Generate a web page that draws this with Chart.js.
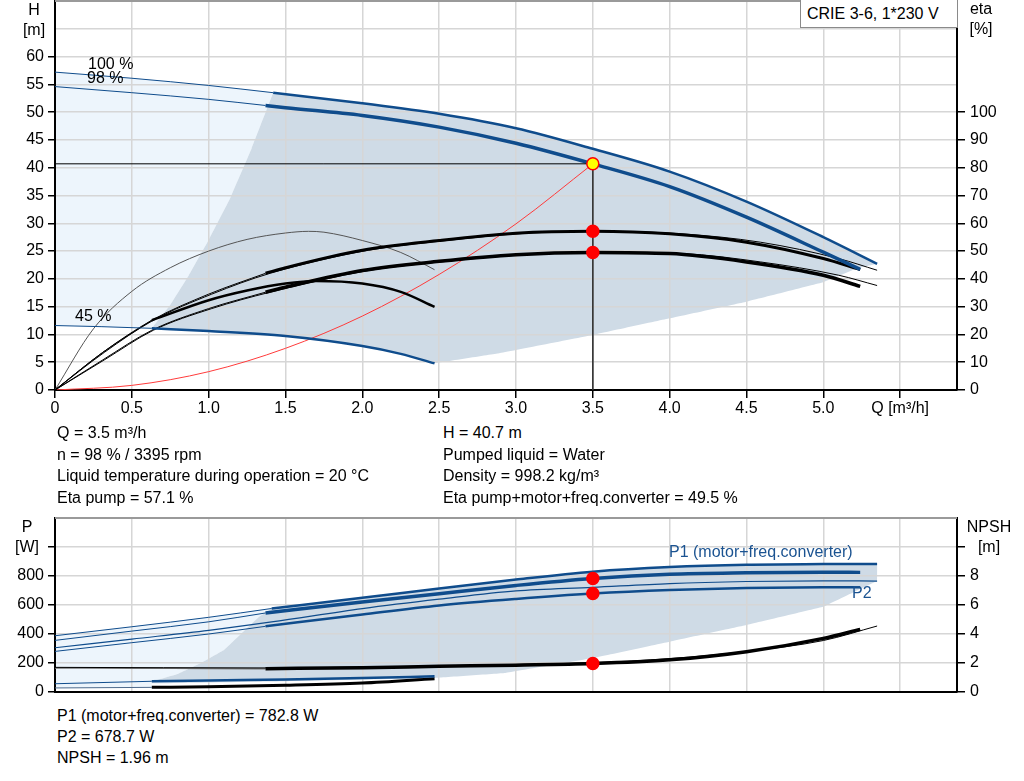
<!DOCTYPE html>
<html>
<head>
<meta charset="utf-8">
<script src="https://cdn.jsdelivr.net/npm/chart.js@4.4.1/dist/chart.umd.min.js"></script>
<style>
  body { margin: 0; background: #fff; width: 1024px; height: 781px; position: relative; overflow: hidden;
         font-family: "Liberation Sans", Arial, sans-serif; font-size: 16px; color: #000; }
  canvas { position: absolute; left: 0; }
  .t { position: absolute; white-space: nowrap; line-height: 20px; }
  .c { text-align: center; width: 50px; }
  .blue { color: #1b5391; }
  #title { position: absolute; left: 800px; top: -1px; width: 150px; height: 27px; line-height: 28px;
           border: 1px solid #8a8a8a; background: #fff; padding-left: 6px; white-space: nowrap; }
</style>
</head>
<body>
<canvas id="head" width="1024" height="420" style="top:0"></canvas>
<canvas id="power" width="1024" height="205" style="top:500px"></canvas>

<div id="title">CRIE 3-6, 1*230 V</div>
<div class="t c" style="left:9px;top:0">H</div>
<div class="t c" style="left:9px;top:20px">[m]</div>
<div class="t c" style="left:956px;top:-1px">eta</div>
<div class="t c" style="left:956px;top:19px">[%]</div>
<div class="t" style="left:88px;top:54px">100 %</div>
<div class="t" style="left:87px;top:68px">98 %</div>
<div class="t" style="left:75px;top:306px">45 %</div>

<div class="t" style="left:57px;top:423px">Q = 3.5 m³/h</div>
<div class="t" style="left:57px;top:445px">n = 98 % / 3395 rpm</div>
<div class="t" style="left:57px;top:466px">Liquid temperature during operation = 20 °C</div>
<div class="t" style="left:57px;top:488px">Eta pump = 57.1 %</div>
<div class="t" style="left:443px;top:423px">H = 40.7 m</div>
<div class="t" style="left:443px;top:445px">Pumped liquid = Water</div>
<div class="t" style="left:443px;top:466px">Density = 998.2 kg/m³</div>
<div class="t" style="left:443px;top:488px">Eta pump+motor+freq.converter = 49.5 %</div>

<div class="t c" style="left:2px;top:517px">P</div>
<div class="t c" style="left:2px;top:537px">[W]</div>
<div class="t c" style="left:964px;top:517px">NPSH</div>
<div class="t c" style="left:964px;top:537px">[m]</div>
<div class="t blue" style="left:669px;top:542px">P1 (motor+freq.converter)</div>
<div class="t blue" style="left:852px;top:583px">P2</div>

<div class="t" style="left:57px;top:706px">P1 (motor+freq.converter) = 782.8 W</div>
<div class="t" style="left:57px;top:727px">P2 = 678.7 W</div>
<div class="t" style="left:57px;top:748px">NPSH = 1.96 m</div>

<script>
// duty point
const dutyQ = 3.5, dutyH = 40.7, dutyEtaPump = 57.1, dutyEtaTotal = 49.5;
const dutyP1 = 782.8, dutyP2 = 678.7, dutyNpsh = 1.96;
const qMax = 5.87;
const qUnit = 'Q [m³/h]';

// head curves [m]
const qH100 = [0, 0.5, 1.0, 1.42, 2.0, 2.5, 3.0, 3.5, 4.0, 4.5, 5.0, 5.35];
const h100 = [57.2, 56.1, 54.8, 53.5, 51.6, 49.7, 47.1, 43.4, 39.3, 33.9, 27.5, 22.7];
const qH98 = [0, 0.5, 1.0, 1.37, 1.5, 2.0, 2.5, 3.0, 3.5, 4.0, 4.5, 5.0, 5.24];
const h98 = [54.6, 53.5, 52.3, 51.2, 50.8, 49.4, 47.3, 44.4, 40.7, 36.6, 31.1, 24.8, 21.7];
const qH45 = [0, 0.3, 0.63, 1.0, 1.5, 2.0, 2.25, 2.47];
const h45 = [11.6, 11.4, 11.1, 10.6, 9.7, 7.9, 6.5, 4.8];
const qSys = [0, 0.5, 1.0, 1.5, 2.0, 2.5, 3.0, 3.5];
const hSys = [0, 0.83, 3.3, 7.5, 13.3, 20.8, 29.9, 40.7];
// operating range borders
const qLimit = [2.47, 2.89, 3.5, 4.0, 4.5, 5.0, 5.22];
const hLimit = [4.8, 6.6, 9.9, 12.9, 15.9, 19.4, 21.9];
const qEdge = [0.63, 0.75, 0.87, 1.0, 1.14, 1.28, 1.42];
const hEdge = [11.1, 15.3, 20.6, 27.0, 34.5, 43.5, 53.5];

// efficiency curves [%]
const qEta98 = [0, 0.31, 0.63, 1.0, 1.37, 1.5, 2.0, 2.5, 3.0, 3.5, 4.0, 4.5, 5.0, 5.24];
const etaPump98 = [0, 13.5, 25.1, 34.5, 42.0, 44.0, 50.3, 53.8, 56.4, 57.1, 56.2, 53.2, 47.3, 43.3];
const etaTot98 = [0, 10.8, 21.5, 29.3, 35.2, 37.0, 43.0, 46.3, 48.7, 49.5, 49.1, 46.1, 41.3, 37.3];
const qEta100 = [0, 0.32, 0.64, 1.02, 1.4, 2.04, 2.55, 3.06, 3.57, 4.08, 4.59, 5.1, 5.35];
const etaPump100 = [0, 13.5, 25.1, 34.5, 42.0, 50.3, 53.8, 56.4, 57.1, 56.2, 53.2, 47.3, 43.1];
const etaTot100 = [0, 10.8, 21.5, 29.3, 35.2, 43.0, 46.3, 48.7, 49.5, 49.1, 46.1, 41.3, 37.6];
const qEta45 = [0, 0.25, 0.5, 0.75, 1.0, 1.25, 1.5, 1.65, 1.75, 2.0, 2.25, 2.47];
const etaPump45 = [0, 22, 35.5, 44, 50, 54.2, 56.5, 57.1, 56.8, 53.8, 49.5, 43.3];
const qTot45 = [0, 0.31, 0.63, 1.0, 1.25, 1.5, 1.7, 2.0, 2.25, 2.47];
const etaTot45 = [0, 13.5, 25.1, 32.3, 35.8, 38.3, 39.2, 38.3, 35.3, 29.9];

// power curves [W]
const qP100 = [0, 0.5, 1.0, 1.41, 2.0, 2.5, 3.0, 3.5, 4.0, 4.5, 5.0, 5.35];
const p1_100 = [388, 450, 515, 576, 650, 714, 776, 830, 862, 878, 882, 883];
const p2_100 = [305, 365, 425, 483, 575, 640, 697, 722, 748, 762, 767, 765];
const qP98 = [0, 0.5, 1.0, 1.37, 2.0, 2.5, 3.0, 3.5, 4.0, 4.5, 5.0, 5.24];
const p1_98 = [356, 420, 484, 545, 620, 678, 735, 782.8, 812, 822, 826, 825];
const p2_98 = [280, 340, 400, 453, 535, 597, 642, 678.7, 703, 718, 723, 722];
const qP45 = [0, 0.63, 1.0, 1.5, 2.0, 2.47];
const p1_45 = [57, 74, 80, 87, 96, 108];
const qPLimit = [5.35, 5.2, 5.0, 4.5, 4.0, 3.5, 2.93, 2.47, 1.5, 0.63];
const pLimit = [765, 690, 588, 462, 347, 234, 131, 97, 75, 60];
const qPEdge = [0.63, 0.8, 0.95, 1.1, 1.21, 1.33, 1.41];
const pEdge = [74, 125, 200, 290, 400, 520, 576];
const qPLow = [0.63, 0];
const pLow = [34, 26];

// NPSH curves [m]
const qN98 = [0, 0.5, 1.0, 1.37, 2.0, 2.5, 3.0, 3.5, 4.0, 4.5, 5.0, 5.24];
const npsh98 = [1.65, 1.64, 1.62, 1.61, 1.68, 1.77, 1.85, 1.96, 2.22, 2.78, 3.7, 4.32];
const qN100 = [0, 1.41, 2.0, 2.5, 3.0, 3.5, 4.0, 4.5, 5.0, 5.35];
const npsh100 = [1.7, 1.66, 1.72, 1.8, 1.9, 2.02, 2.3, 2.8, 3.55, 4.55];
const npsh45 = [0.28, 0.32, 0.36, 0.46, 0.62, 0.92];

Chart.defaults.font.family = "'Liberation Sans', Arial, sans-serif";
Chart.defaults.font.size = 16;
Chart.defaults.color = '#000';

const BLUE = '#0f4c8c';
const GRID = '#d6d6d6';
const LIGHT = '#edf5fc';
const DARK = '#cfdbe6';

function pts(qs, vs, from = 0, to = qs.length) {
  return qs.slice(from, to).map((q, i) => ({ x: q, y: vs[from + i] }));
}

function line(data, color, width, axis, order) {
  return { data, yAxisID: axis || 'y', borderColor: color, borderWidth: width, pointRadius: 0,
           fill: false, cubicInterpolationMode: 'monotone', order: order || 5 };
}

function rule(data, color) {
  return { data, yAxisID: 'y', borderColor: color, borderWidth: 1, pointRadius: 0, fill: false, tension: 0, order: 2 };
}

function zone(data, color, order) {
  return { data, yAxisID: 'y', backgroundColor: color, borderColor: 'rgba(0,0,0,0)', borderWidth: 0,
           pointRadius: 0, fill: 'shape', tension: 0.01, order };
}

function dot(x, y, axis, color, border) {
  return { data: [{ x, y }], yAxisID: axis, showLine: false, pointRadius: 6, pointBackgroundColor: color,
           pointBorderColor: border || color, pointBorderWidth: 1.5, order: 0 };
}

// thin line up to the split point, thick line after it
function thinThick(qs, vs, split, color, thin, thick, axis, thinColor) {
  return [line(pts(qs, vs, 0, split + 1), thinColor || color, thin, axis, 4),
          line(pts(qs, vs, split), color, thick, axis, 3)];
}

function xScale(height, labels) {
  return {
    type: 'linear', min: 0, max: qMax,
    afterFit: s => { s.height = height; },
    border: { color: '#000', width: 2 },
    grid: { color: GRID, lineWidth: 1.5, drawTicks: labels, tickLength: 8, tickColor: '#000', tickWidth: 1.5 },
    ticks: { display: labels, stepSize: 0.5, includeBounds: false, padding: 1, maxRotation: 0, autoSkip: false,
             callback: v => v === 5.5 ? qUnit : (v === 0 ? '0' : v.toFixed(1)) }
  };
}

function yScale(side, max, step, lastLabel, lastTick, width, grid) {
  return {
    type: 'linear', position: side, min: 0, max,
    afterFit: s => { s.width = width; s.paddingTop = 0; s.paddingBottom = 0; },
    border: { color: '#000', width: 2 },
    grid: { drawOnChartArea: grid, color: GRID, lineWidth: 1.5, tickLength: side === 'left' ? 7 : 8, tickWidth: 1.5,
            tickColor: c => (c.tick && c.tick.value > lastTick) ? 'rgba(0,0,0,0)' : '#000' },
    ticks: { stepSize: step, padding: side === 'left' ? 4 : 5, autoSkip: false,
             callback: v => v > lastLabel ? '' : String(v) }
  };
}

const frameTop = {
  id: 'frameTop',
  afterDraw(chart) {
    const { ctx, chartArea: a } = chart;
    ctx.save();
    ctx.strokeStyle = '#9a9a9a';
    ctx.lineWidth = 2;
    ctx.beginPath();
    ctx.moveTo(a.left, a.top);
    ctx.lineTo(a.right, a.top);
    ctx.stroke();
    ctx.restore();
  }
};

const lightTop = [...pts(qH100, h100, 0, 4), ...pts(qEdge, hEdge).reverse(), ...pts(qH45, h45, 0, 3).reverse()];
const darkTop = [...pts(qH100, h100, 3), ...pts(qLimit, hLimit).reverse(), ...pts(qH45, h45, 2).reverse(), ...pts(qEdge, hEdge, 1)];

const headSets = [
  zone(lightTop, LIGHT, 11),
  zone(darkTop, DARK, 10),
  line(pts(qSys, hSys), '#ff3b3b', 1, 'y', 6),
  ...thinThick(qH100, h100, 3, BLUE, 1, 2.5),
  ...thinThick(qH98, h98, 3, BLUE, 1, 3.5),
  ...thinThick(qH45, h45, 2, BLUE, 1, 2.5),
  line(pts(qEta100, etaPump100), '#000', 1, 'y2'),
  line(pts(qEta100, etaTot100), '#000', 1, 'y2'),
  ...thinThick(qEta98, etaPump98, 4, '#000', 1, 3, 'y2'),
  ...thinThick(qEta98, etaTot98, 4, '#000', 1, 3.5, 'y2'),
  line(pts(qEta45, etaPump45), '#555', 1, 'y2'),
  ...thinThick(qTot45, etaTot45, 2, '#000', 1, 2.5, 'y2'),
  rule([{ x: 0, y: dutyH }, { x: dutyQ, y: dutyH }], '#000'),
  rule([{ x: dutyQ, y: dutyH }, { x: dutyQ, y: 0 }], '#333'),
  dot(dutyQ, dutyH, 'y', '#ffff00', '#ff0000'),
  dot(dutyQ, dutyEtaPump, 'y2', '#ff0000'),
  dot(dutyQ, dutyEtaTotal, 'y2', '#ff0000')
];

const lightBottom = [...pts(qP100, p1_100, 0, 4), ...pts(qPEdge, pEdge).reverse(), ...pts(qPLow, pLow)];
const darkBottom = [...pts(qP100, p1_100, 3), ...pts(qPLimit, pLimit), ...pts(qPEdge, pEdge)];

const powerSets = [
  zone(lightBottom, LIGHT, 11),
  zone(darkBottom, DARK, 10),
  ...thinThick(qP100, p1_100, 3, BLUE, 1, 2.5),
  line(pts(qP100, p2_100), BLUE, 1.2, 'y', 4),
  ...thinThick(qP98, p1_98, 3, BLUE, 1, 3.5),
  ...thinThick(qP98, p2_98, 3, BLUE, 1, 2.5),
  line(pts(qN100, npsh100), '#000', 1, 'y2', 4),
  ...thinThick(qN98, npsh98, 3, '#000', 1.5, 3.5, 'y2', '#777'),
  ...thinThick(qP45, p1_45, 1, BLUE, 1, 2.5),
  ...thinThick(qP45, npsh45, 1, '#000', 1, 3, 'y2', '#4d6a8c'),
  dot(dutyQ, dutyP1, 'y', '#ff0000'),
  dot(dutyQ, dutyP2, 'y', '#ff0000'),
  dot(dutyQ, dutyNpsh, 'y2', '#ff0000')
];

const common = {
  responsive: false,
  animation: false,
  events: [],
  plugins: { legend: { display: false }, tooltip: { enabled: false }, filler: { drawTime: 'beforeDraw' } }
};

new Chart(document.getElementById('head'), {
  type: 'line',
  data: { datasets: headSets },
  options: {
    ...common,
    layout: { autoPadding: false, padding: { top: 1 } },
    scales: {
      x: xScale(30, true),
      y: yScale('left', 70, 5, 60, 60, 55, true),
      y2: yScale('right', 140, 10, 100, 100, 67, false)
    }
  },
  plugins: [frameTop]
});

new Chart(document.getElementById('power'), {
  type: 'line',
  data: { datasets: powerSets },
  options: {
    ...common,
    layout: { autoPadding: false, padding: { top: 18 } },
    scales: {
      x: xScale(13, false),
      y: yScale('left', 1200, 200, 800, 1000, 55, true),
      y2: yScale('right', 12, 2, 8, 10, 67, false)
    }
  },
  plugins: [frameTop]
});
</script>
</body>
</html>
